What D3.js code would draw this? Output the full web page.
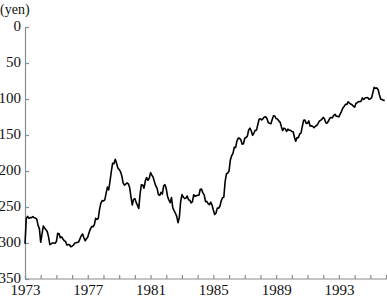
<!DOCTYPE html>
<html>
<head>
<meta charset="utf-8">
<script src="https://cdn.jsdelivr.net/npm/d3@7"></script>
<style>
  body { margin: 0; background: #fff; }
  text { font-family: "Liberation Serif", "Times New Roman", serif; }
</style>
</head>
<body>
<svg id="chart"></svg>
<script>
// monthly average yen per dollar, Jan 1973 - Dec 1995
const startYear = 1973;
const rates1970s = [
  301.1, 266.0, 263.0, 265.5, 264.8, 264.8, 263.2, 265.0, 265.4, 266.8, 275.5, 280.0,
  299.0, 287.6, 276.3, 279.1, 281.6, 284.1, 291.5, 302.2, 301.2, 299.9, 300.0, 300.3,
  298.0, 286.7, 287.0, 292.6, 291.5, 294.4, 296.8, 297.8, 302.7, 302.3, 302.5, 305.2,
  304.6, 302.7, 300.3, 299.5, 299.3, 298.6, 294.2, 290.0, 287.5, 292.7, 296.8, 294.1,
  291.7, 285.5, 280.4, 277.2, 277.5, 274.7, 265.6, 267.2, 266.0, 253.3, 244.5, 241.0,
  241.7, 240.1, 231.2, 222.3, 226.1, 213.9, 200.7, 189.2, 189.8, 183.7, 189.1, 195.8,
  197.8, 201.0, 206.6, 216.4, 219.5, 218.4, 216.4, 217.8, 223.0, 235.7, 247.2, 239.4
];
const rates1980s = [
  238.3, 243.6, 247.7, 251.9, 231.6, 219.0, 219.5, 223.8, 213.6, 209.1, 213.0, 209.8,
  202.2, 205.8, 208.9, 215.1, 220.7, 224.2, 232.8, 233.8, 229.6, 232.1, 220.6, 219.0,
  224.8, 235.3, 240.3, 244.1, 236.9, 251.1, 255.1, 258.7, 263.0, 271.8, 264.1, 242.4,
  232.7, 236.2, 238.1, 237.8, 234.7, 240.0, 240.5, 244.4, 242.6, 233.0, 235.2, 234.4,
  233.7, 233.5, 225.3, 225.2, 230.4, 233.1, 242.6, 242.2, 245.4, 246.8, 243.3, 247.3,
  254.2, 260.5, 258.5, 251.6, 251.7, 248.9, 241.7, 237.1, 236.5, 214.7, 204.0, 202.8,
  200.1, 184.6, 178.8, 175.6, 167.0, 167.5, 158.6, 154.2, 154.7, 156.5, 162.7, 162.1,
  154.5, 153.5, 151.6, 143.0, 140.5, 144.5, 150.3, 147.3, 143.3, 143.3, 135.4, 128.2,
  127.4, 129.1, 127.2, 124.9, 124.8, 127.2, 133.1, 133.6, 134.3, 128.5, 123.2, 123.6,
  127.2, 127.8, 130.4, 132.0, 138.4, 143.8, 140.4, 141.5, 145.1, 141.9, 143.5, 143.6
];
const rates1990s = [
  145.1, 145.5, 153.1, 158.5, 153.5, 153.8, 148.6, 147.3, 138.4, 129.6, 129.2, 133.9,
  133.7, 130.5, 137.4, 137.1, 138.2, 139.8, 137.8, 136.8, 134.3, 130.8, 129.6, 128.0,
  125.5, 127.7, 132.9, 133.6, 130.6, 126.8, 125.7, 126.2, 122.6, 121.2, 123.9, 123.9,
  124.9, 120.8, 117.1, 112.4, 110.3, 107.4, 107.7, 103.8, 105.7, 107.0, 107.9, 109.9,
  111.4, 106.3, 105.1, 103.5, 103.8, 102.7, 98.5, 100.6, 98.7, 98.3, 98.0, 100.2,
  99.8, 98.2, 90.8, 83.7, 85.1, 84.6, 87.2, 94.5, 100.3, 100.7, 101.9, 101.9
];
const yTicks = [0, 50, 100, 150, 200, 250, 300, 350];
const xTickYears = d3.range(1973, 1997);
const xLabelYears = [1973, 1977, 1981, 1985, 1989, 1993];

const width = 387;
const height = 297;

const rates = rates1970s.concat(rates1980s, rates1990s);
const data = rates.map((v, i) => ({ t: startYear + i / 12, v: v }));

const svg = d3.select('#chart')
  .attr('width', width)
  .attr('height', height);

const x = d3.scaleLinear()
  .domain([1973, 1996])
  .range([25, 386]);

const y = d3.scaleLinear()
  .domain([0, 350])
  .range([27, 279]);

const xAxis = svg.append('g')
  .attr('transform', 'translate(0,279)')
  .call(d3.axisBottom(x)
    .tickValues(xTickYears)
    .tickSize(-4)
    .tickSizeOuter(0)
    .tickPadding(5)
    .tickFormat(d => xLabelYears.includes(d) ? String(d) : ''));

const yAxis = svg.append('g')
  .attr('transform', 'translate(25,0)')
  .call(d3.axisLeft(y)
    .tickValues(yTicks)
    .tickSize(-4)
    .tickSizeOuter(0)
    .tickPadding(4));

svg.selectAll('.domain, .tick line')
  .attr('stroke', '#8c8c8c')
  .attr('stroke-width', 1.2);

svg.selectAll('.tick text')
  .attr('fill', '#111')
  .style('font-size', '15px');

// nudge y labels up a touch so "350" clears "1973"
yAxis.selectAll('.tick text').attr('dy', '0.25em');

// extend the x axis line to the right edge
xAxis.select('.domain').attr('d', 'M25,0H387');

svg.append('text')
  .attr('x', 0)
  .attr('y', 14)
  .attr('fill', '#111')
  .style('font-size', '14px')
  .text('(yen)');

const line = d3.line()
  .x(d => x(d.t))
  .y(d => y(d.v));

svg.append('path')
  .datum(data)
  .attr('fill', 'none')
  .attr('stroke', '#000')
  .attr('stroke-width', 1.6)
  .attr('stroke-linejoin', 'round')
  .attr('d', line);
</script>
</body>
</html>
